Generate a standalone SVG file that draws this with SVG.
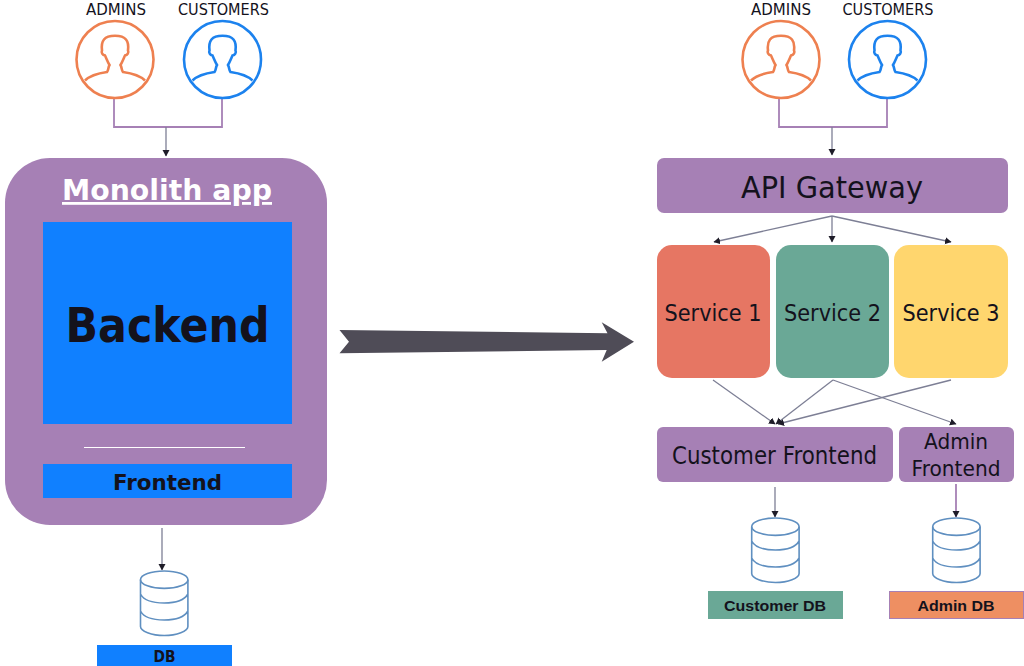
<svg xmlns="http://www.w3.org/2000/svg" width="1024" height="666" viewBox="0 0 1024 666">
<style>
text{font-family:"DejaVu Sans","Liberation Sans",sans-serif;fill:#14121c;text-anchor:middle}
.b{font-weight:700}
.a{font-family:"Liberation Sans",Arial,sans-serif;font-weight:700}
.t{font-size:16px}
.p{fill:#a680b5}
.c{fill:none;stroke:#7d7f95;stroke-width:1.3}
.k{fill:none;stroke:#a680b5;stroke-width:1.8}
.db{fill:none;stroke:#5f8fc0;stroke-width:1.6}
.u{fill:none;stroke-width:2.6}
</style>
<defs>
<marker id="a" markerWidth="8" markerHeight="8" refX="6" refY="3.5" orient="auto" markerUnits="userSpaceOnUse"><path d="M0 0L6.500 3.500L0 7z" fill="#1e1c28"/></marker>
<g id="person">
<circle r="38.500"/>
<path d="M-30 21C-25 16-15 13.500-8 12.500C-6.500 11-7 8-5.500 5.500C-7.500 2-9-2-10-4C-12.500-4.500-14-7-13-9C-13.500-13-13.500-17-11-20C-7-25 7-25 11-20C13.500-17 13.500-13 13-9C14-7 12.500-4.500 10-4C9-2 7.500 2 5.500 5.500C7 8 6.500 11 8 12.500C15 13.500 25 16 30 21"/>
</g>
<g id="cyl">
<ellipse cx="23.700" cy="8.700" rx="23.700" ry="8.700"/>
<path d="M0 8.700V55.500C0 60 11 64.500 23.700 64.500S47.400 60 47.400 55.500V8.700M0 23C3 29 12 32 23.700 32S44 29 47.400 23M0 40C3 46 12 49 23.700 49S44 46 47.400 40"/>
</g>
</defs>

<g id="connectors">
<path class="k" d="M114 99V127H222V99"/>
<path class="c" marker-end="url(#a)" d="M166 127V156"/>
<path class="c" marker-end="url(#a)" d="M162 528V570"/>
<path class="k" d="M779 99V127H887V99"/>
<path class="c" marker-end="url(#a)" d="M832 127V155"/>
<path class="c" marker-end="url(#a)" d="M832 216L714 242"/>
<path class="c" marker-end="url(#a)" d="M832 216V242"/>
<path class="c" marker-end="url(#a)" d="M832 216L951 242"/>
<path class="c" marker-end="url(#a)" d="M713 380L775 424"/>
<path class="c" marker-end="url(#a)" d="M833 380L776 424"/>
<path class="c" marker-end="url(#a)" d="M951 380L778 424"/>
<path class="c" marker-end="url(#a)" d="M833 380L956 424"/>
<path class="c" marker-end="url(#a)" d="M775 487V517"/>
<path class="k" marker-end="url(#a)" d="M956 484V517"/>
</g>

<g id="admins-left"><text class="t" x="116" y="15" textLength="60" lengthAdjust="spacingAndGlyphs">ADMINS</text><use href="#person" x="115" y="59.500" class="u" stroke="#ee8050"/></g>
<g id="customers-left"><text class="t" x="223.500" y="15" textLength="91" lengthAdjust="spacingAndGlyphs">CUSTOMERS</text><use href="#person" x="222.500" y="59.500" class="u" stroke="#1c82ee"/></g>
<g id="monolith">
<rect class="p" x="5" y="158" width="322" height="367" rx="45"/>
<text class="b" x="167" y="200" font-size="28" style="fill:#fff" text-decoration="underline" textLength="210" lengthAdjust="spacingAndGlyphs">Monolith app</text>
</g>
<g id="backend"><rect x="43" y="222" width="249" height="202" fill="#1080ff"/><text class="b" x="167.500" y="342" font-size="48" textLength="204" lengthAdjust="spacingAndGlyphs">Backend</text></g>
<path d="M84 447.500H245" stroke="#fff" stroke-width="1"/>
<g id="frontend"><rect x="43" y="464" width="249" height="34" fill="#1080ff"/><text class="b" x="167.500" y="490" font-size="22" textLength="109" lengthAdjust="spacingAndGlyphs">Frontend</text></g>
<g id="db-left"><use href="#cyl" x="140.500" y="571" class="db"/><rect x="97" y="645" width="135" height="21" fill="#1080ff"/><text class="b" x="164.500" y="662" font-size="16" textLength="22" lengthAdjust="spacingAndGlyphs">DB</text></g>

<g id="admins-right"><text class="t" x="781" y="15" textLength="60" lengthAdjust="spacingAndGlyphs">ADMINS</text><use href="#person" x="781" y="59.500" class="u" stroke="#ee8050"/></g>
<g id="customers-right"><text class="t" x="888" y="15" textLength="91" lengthAdjust="spacingAndGlyphs">CUSTOMERS</text><use href="#person" x="887.500" y="59.500" class="u" stroke="#1c82ee"/></g>
<g id="gateway"><rect class="p" x="657" y="158" width="351" height="55" rx="7"/><text x="832" y="198" font-size="31" textLength="182" lengthAdjust="spacingAndGlyphs">API Gateway</text></g>
<g id="service1"><rect x="657" y="245" width="113" height="133" rx="15" fill="#e67663"/><text x="713" y="321" font-size="23" textLength="97" lengthAdjust="spacingAndGlyphs">Service 1</text></g>
<g id="service2"><rect x="776" y="245" width="113" height="133" rx="15" fill="#6aa896"/><text x="832.500" y="321" font-size="23" textLength="97" lengthAdjust="spacingAndGlyphs">Service 2</text></g>
<g id="service3"><rect x="894" y="245" width="114" height="133" rx="15" fill="#ffd66e"/><text x="951" y="321" font-size="23" textLength="97" lengthAdjust="spacingAndGlyphs">Service 3</text></g>
<g id="customer-frontend"><rect class="p" x="657" y="427" width="236" height="55" rx="6"/><text x="774.500" y="464" font-size="24" textLength="205" lengthAdjust="spacingAndGlyphs">Customer Frontend</text></g>
<g id="admin-frontend"><rect class="p" x="899" y="427" width="115" height="55" rx="6"/><text x="956" y="449" font-size="22" textLength="64" lengthAdjust="spacingAndGlyphs">Admin</text><text x="956" y="476" font-size="22" textLength="89" lengthAdjust="spacingAndGlyphs">Frontend</text></g>
<g id="customer-db"><use href="#cyl" x="751.700" y="518" class="db"/><rect x="708" y="591" width="135" height="28" fill="#6aa896"/><text class="a" x="775" y="611" font-size="15.500" textLength="102" lengthAdjust="spacingAndGlyphs">Customer DB</text></g>
<g id="admin-db"><rect x="889.500" y="591.500" width="134" height="27" fill="#ee8f62" stroke="#a680b5"/><use href="#cyl" x="932.700" y="518" class="db"/><text class="a" x="956" y="611" font-size="15.500" textLength="77" lengthAdjust="spacingAndGlyphs">Admin DB</text></g>

<polygon id="big-arrow" points="339.500,330 607.500,333.300 601.700,322.300 634,341.700 601.700,361.700 606.700,350 339.500,353.300 349,341.700" fill="#4f4c57"/>
</svg>
